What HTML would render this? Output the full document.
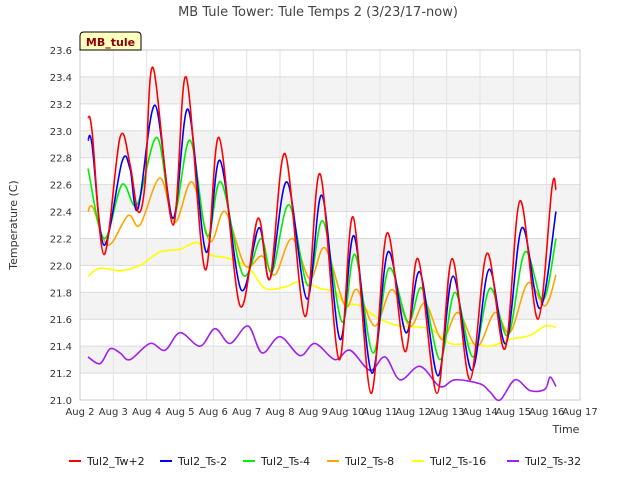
<!DOCTYPE html>
<html><head><meta charset="utf-8"><style>
body{margin:0;background:#fff;font-family:"Liberation Sans","DejaVu Sans",sans-serif}
svg text{font-family:"DejaVu Sans","Liberation Sans",sans-serif}
</style></head><body>
<svg id="c" width="640" height="480" xmlns="http://www.w3.org/2000/svg">
<rect width="640" height="480" fill="#fff"/>
<g id="grid"></g><g id="axes"></g><g id="series"></g>
<text x="318" y="16" text-anchor="middle" font-size="13" fill="#444">MB Tule Tower: Tule Temps 2 (3/23/17-now)</text>
<text x="566" y="433" text-anchor="middle" font-size="11" fill="#333">Time</text>
<text transform="translate(17,225) rotate(-90)" text-anchor="middle" font-size="11" fill="#333">Temperature (C)</text>
<g>
<path d="M80,50 L80,36 Q80,32 84,32 L137,32 Q141,32 141,36 L141,50 Z" fill="#ffffc0" stroke="#000" stroke-width="1"/>
<text x="110.5" y="46" text-anchor="middle" font-size="11" font-weight="bold" fill="#8b0000">MB_tule</text>
</g>
<g id="legend"></g>
</svg>
<script>
const xTicks=[2,3,4,5,6,7,8,9,10,11,12,13,14,15,16,17];
const yTicks=[21.0,21.2,21.4,21.6,21.8,22.0,22.2,22.4,22.6,22.8,23.0,23.2,23.4,23.6];
const seriesNames=["Tul2_Tw+2","Tul2_Ts-2","Tul2_Ts-4","Tul2_Ts-8","Tul2_Ts-16","Tul2_Ts-32"];
const seriesColors=["#ff0000","#0000ff","#00ee00","#ffa500","#ffff00","#a020f0"];
const twDays=[2.24,2.36,2.72,3.2,3.5,3.74,3.95,4.19,4.79,5.18,5.75,6.17,6.8,7.34,7.7,8.15,8.75,9.2,9.77,10.19,10.73,11.21,11.75,12.14,12.71,13.16,13.7,14.21,14.75,15.2,15.74,16.16,16.28];
const twVals=[23.1,23.0,22.08,22.95,22.75,22.4,22.6,23.47,22.3,23.4,21.97,22.95,21.7,22.35,21.9,22.83,21.62,22.68,21.3,22.36,21.05,22.24,21.36,22.05,21.05,22.05,21.15,22.09,21.38,22.48,21.6,22.58,22.56];
const ts2Days=[2.24,2.36,2.72,3.26,3.5,3.74,4.25,4.79,5.24,5.78,6.2,6.83,7.37,7.7,8.21,8.81,9.26,9.8,10.22,10.76,11.24,11.78,12.2,12.74,13.19,13.76,14.27,14.78,15.26,15.8,16.28];
const ts2Vals=[22.93,22.9,22.15,22.77,22.72,22.42,23.19,22.35,23.16,22.1,22.78,21.82,22.28,21.9,22.62,21.75,22.52,21.45,22.22,21.2,22.1,21.5,21.95,21.18,21.92,21.22,21.97,21.42,22.28,21.68,22.4];
const ts4Days=[2.24,2.72,3.26,3.71,4.31,4.79,5.3,5.81,6.23,6.89,7.43,7.76,8.27,8.84,9.29,9.86,10.25,10.79,11.27,11.84,12.26,12.8,13.25,13.79,14.3,14.84,15.35,15.89,16.28];
const ts4Vals=[22.72,22.2,22.6,22.45,22.95,22.35,22.93,22.22,22.62,21.93,22.2,21.95,22.45,21.85,22.33,21.58,22.08,21.35,21.98,21.58,21.83,21.3,21.8,21.32,21.83,21.48,22.1,21.74,22.2];
const ts8Days=[2.24,2.39,2.84,3.44,3.8,4.4,4.85,5.36,5.9,6.35,6.95,7.46,7.85,8.36,8.9,9.35,9.95,10.31,10.85,11.36,11.9,12.35,12.86,13.34,13.91,14.45,14.9,15.44,15.95,16.28];
const ts8Vals=[22.4,22.43,22.15,22.37,22.3,22.65,22.32,22.62,22.18,22.4,22.0,22.07,21.93,22.2,21.9,22.13,21.7,21.82,21.55,21.82,21.55,21.72,21.45,21.65,21.4,21.65,21.5,21.87,21.7,21.93];
const ts16Days=[2.24,2.6,3.2,3.8,4.4,5.0,5.51,5.9,6.5,7.1,7.55,8.15,8.6,9.2,9.65,9.95,10.4,11.0,11.6,12.5,13.1,13.7,14.3,14.9,15.5,15.95,16.28];
const ts16Vals=[21.92,21.98,21.96,22.0,22.1,22.12,22.17,22.08,22.05,21.97,21.83,21.84,21.88,21.83,21.8,21.72,21.7,21.6,21.55,21.53,21.42,21.42,21.4,21.45,21.48,21.55,21.54];
const ts32Days=[2.24,2.6,2.9,3.2,3.5,4.1,4.55,5.0,5.6,6.05,6.5,7.04,7.46,8.0,8.6,9.05,9.65,10.1,10.7,11.15,11.6,12.2,12.8,13.25,14.0,14.3,14.6,15.05,15.5,15.95,16.1,16.28];
const ts32Vals=[21.32,21.27,21.38,21.35,21.3,21.42,21.37,21.5,21.4,21.53,21.42,21.55,21.35,21.47,21.33,21.42,21.3,21.37,21.22,21.32,21.15,21.25,21.1,21.15,21.12,21.06,21.0,21.15,21.07,21.08,21.17,21.1];
const allDays=[twDays,ts2Days,ts4Days,ts8Days,ts16Days,ts32Days];
const allVals=[twVals,ts2Vals,ts4Vals,ts8Vals,ts16Vals,ts32Vals];

const NS="http://www.w3.org/2000/svg";
const L=80,R=580,T=50,B=400,x0=2,x1=17,y0=21.0,y1=23.6;
const sx=d=>L+(d-x0)/(x1-x0)*(R-L);
const sy=v=>B-(v-y0)/(y1-y0)*(B-T);
function mk(tag,attrs,parent){const e=document.createElementNS(NS,tag);for(const k in attrs)e.setAttribute(k,attrs[k]);parent.appendChild(e);return e;}
const grid=document.getElementById('grid'),axes=document.getElementById('axes'),ser=document.getElementById('series'),leg=document.getElementById('legend');
for(let i=0;i<yTicks.length-1;i++){
  if(i%2===1){const r=mk('rect',{x:L,y:sy(yTicks[i+1]),width:R-L,height:sy(yTicks[i])-sy(yTicks[i+1]),fill:'#f3f3f3'},grid);
  
  }
}
yTicks.forEach(v=>{
  const l=mk('line',{x1:L,x2:R,y1:sy(v),y2:sy(v),stroke:'#dcdcdc','stroke-width':1},grid);
  
  
  const t=mk('text',{x:L-8,y:sy(v)+4,'text-anchor':'end','font-size':10,fill:'#333'},axes);
  t.textContent=v.toFixed(1);
  
  
});
xTicks.forEach(d=>{
  const l=mk('line',{x1:sx(d),x2:sx(d),y1:T,y2:B,stroke:'#e4e4e4','stroke-width':1},grid);
  
  
  const t=mk('text',{x:sx(d),y:B+15,'text-anchor':'middle','font-size':10,fill:'#333'},axes);
  t.textContent='Aug '+d;
  
  
});
const fr=mk('rect',{x:L,y:T,width:R-L,height:B-T,fill:'none',stroke:'#ccc'},grid);


function smooth(pts){
  let d='M'+pts[0][0].toFixed(1)+','+pts[0][1].toFixed(1);
  for(let i=0;i<pts.length-1;i++){
    const p0=pts[i-1]||pts[i],p1=pts[i],p2=pts[i+1],p3=pts[i+2]||p2;
    const c1=[p1[0]+(p2[0]-p0[0])/6,p1[1]+(p2[1]-p0[1])/6];
    const c2=[p2[0]-(p3[0]-p1[0])/6,p2[1]-(p3[1]-p1[1])/6];
    d+=' C'+c1.map(n=>n.toFixed(1))+' '+c2.map(n=>n.toFixed(1))+' '+p2[0].toFixed(1)+','+p2[1].toFixed(1);
  }
  return d;
}
for(let s=allDays.length-1;s>=0;s--){
  const pts=allDays[s].map((d,i)=>[sx(d),sy(allVals[s][i])]);
  const p=mk('path',{d:smooth(pts),fill:'none',stroke:seriesColors[s],'stroke-width':1.6,'stroke-linejoin':'round'},ser);
  
  
}
const legendLineX=[69,160,243,327,412,507];
seriesNames.forEach((n,i)=>{
  const g=mk('g',{},leg);
  
  
  const xl=legendLineX[i];
  mk('line',{x1:xl,x2:xl+12,y1:461,y2:461,stroke:seriesColors[i],'stroke-width':2},g);
  const t=mk('text',{x:xl+18,y:465,'font-size':11,fill:'#222'},g);
  t.textContent=n;
});
</script>
</body></html>
